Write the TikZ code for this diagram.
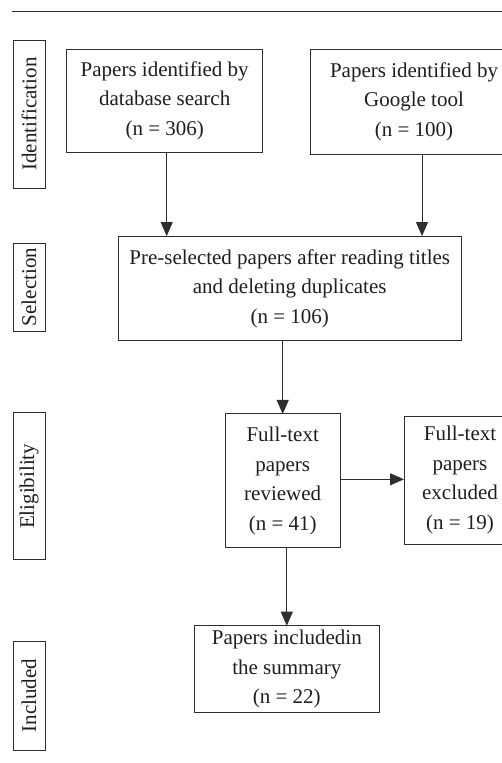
\documentclass[tikz,border=0pt]{standalone}
\usepackage{fontspec}
\setmainfont{Liberation Serif}
\usetikzlibrary{arrows.meta}
\definecolor{ln}{HTML}{2E2E2E}
\definecolor{tx}{HTML}{1E1E1E}
\begin{document}
\begin{tikzpicture}[x=1pt,y=1pt,
  box/.style={draw=ln,line width=1pt,inner sep=0pt,outer sep=0pt,align=center,text=tx,
    font=\fontsize{21}{29.5}\selectfont},
  lab/.style={draw=ln,line width=1pt,inner sep=0pt,outer sep=0pt,rotate=90,text=tx,
    minimum height=32pt,font=\fontsize{21}{25}\selectfont},
  arr/.style={draw=ln,line width=1pt,-{Triangle[length=14pt,width=12pt]}}]
\useasboundingbox (0,0) rectangle (502,-763);
\clip (0,0) rectangle (502,-763);
\coordinate (r1) at (12,-11);
\coordinate (r2) at (510,-11);
\draw[ln,line width=1pt] (r1) -- (r2);
% stage labels
\node[lab,minimum width=148pt] (lid) at (29,-114) {Identification};
\node[lab,minimum width=88pt] (lsel) at (29,-287) {Selection};
\node[lab,minimum width=147pt] (lel) at (29,-486.3) {Eligibility};
\node[lab,minimum width=109pt] (linc) at (29,-695.7) {Included};
% boxes
\node[box,minimum width=196pt,minimum height=103pt] (A) at (164.7,-100.8)
  {Papers identified by\\database search\\(n = 306)};
\node[box,minimum width=208pt,minimum height=104.7pt] (B) at (414,-101.7)
  {Papers identified by\\Google tool\\(n = 100)};
\node[box,minimum width=342.7pt,minimum height=104.7pt] (S) at (289.7,-288.4)
  {Pre-selected papers after reading titles\\and deleting duplicates\\(n = 106)};
\node[box,minimum width=114.7pt,minimum height=133.7pt] (R) at (282.7,-480.8)
  {Full-text\\papers\\reviewed\\(n = 41)};
\node[box,minimum width=112pt,minimum height=128pt] (E) at (460,-480)
  {Full-text\\papers\\excluded\\(n = 19)};
\node[box,minimum width=185pt,minimum height=86.6pt] (I) at (286.8,-669)
  {Papers includedin\\the summary\\(n = 22)};
% connectors
\draw[arr] ([xshift=2pt]A.south) -- ([xshift=2pt]A.south |- S.north);
\draw[arr] ([xshift=8pt]B.south) -- ([xshift=8pt]B.south |- S.north);
\draw[arr] (S.south -| R.north) -- (R.north);
\draw[arr] ([yshift=1.5pt]R.east) -- ([yshift=1.5pt]R.east -| E.west);
\draw[arr] (R.south -| I.north) -- (I.north);
\end{tikzpicture}
\end{document}
